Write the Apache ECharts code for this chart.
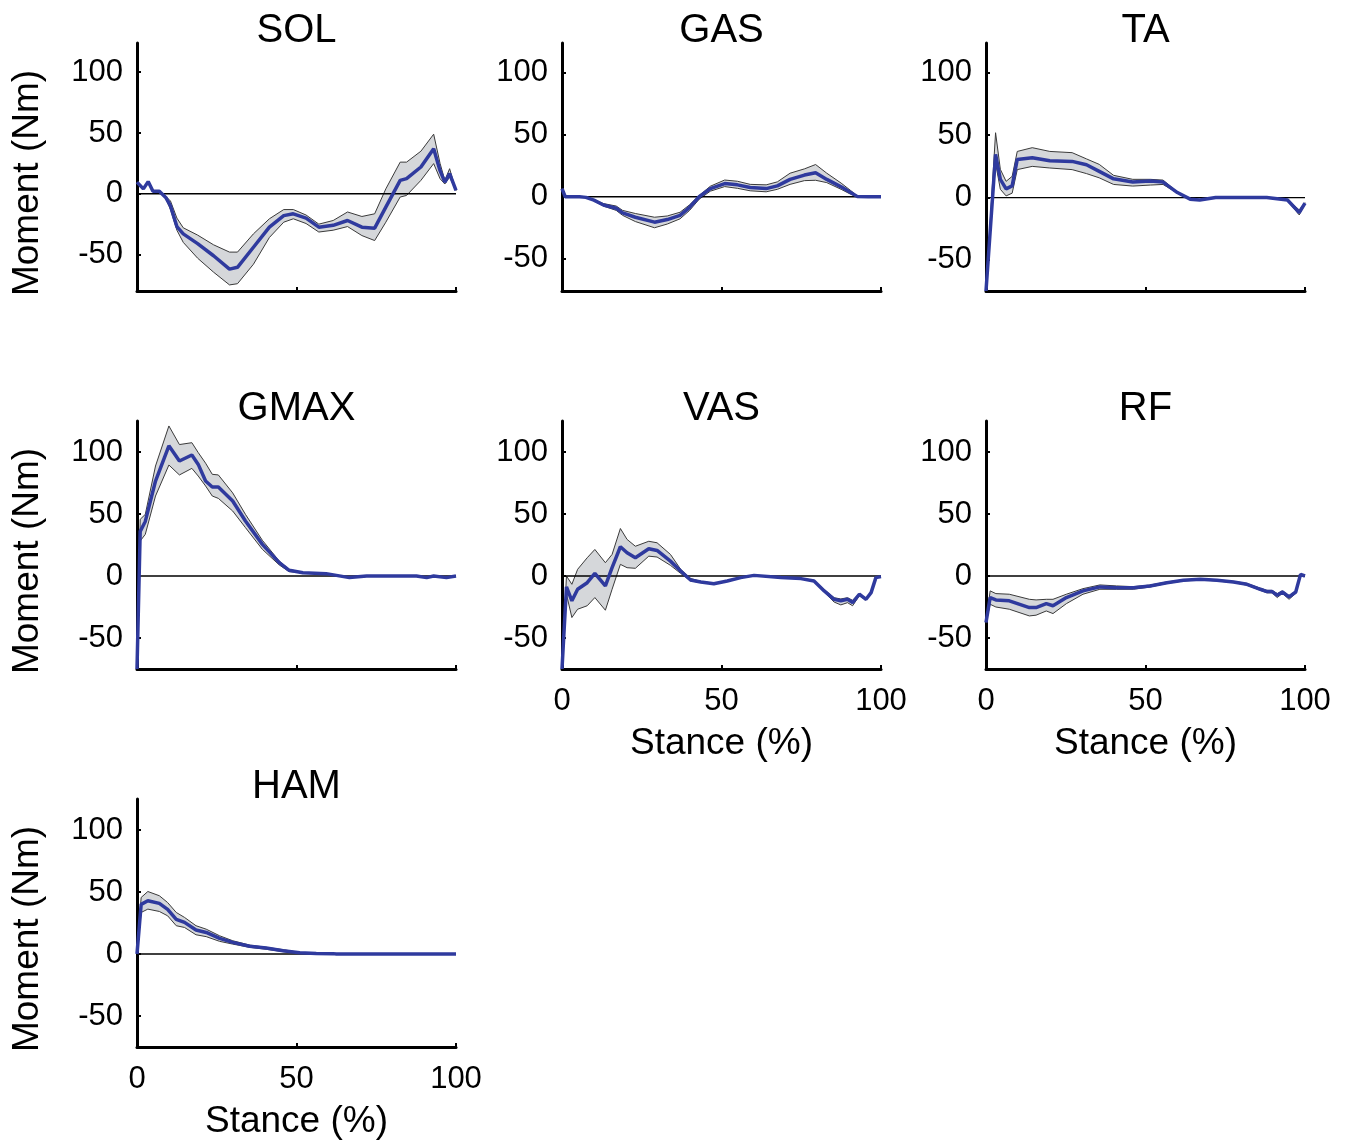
<!DOCTYPE html>
<html>
<head>
<meta charset="utf-8">
<script src="https://cdn.jsdelivr.net/npm/echarts@6/dist/echarts.min.js"></script>
<style>
html, body { margin: 0; padding: 0; background: #fff; }
#main { width: 1353px; height: 1142px; }
</style>
</head>
<body>
<div id="main"></div>
<script>
// stance (%) and moment (Nm): mean, upper and lower edge of the band
var solX    = [0, 2, 3.5, 5, 7, 9, 10.5, 12.5, 14.5, 19, 24, 29, 31.5, 36.5, 41.5, 46, 49, 53, 57, 61.5, 66, 70.5, 74.5, 78, 82.5, 84.5, 89, 93, 95, 96.5, 98, 100];
var solMean = [9.6, 4, 10, 2, 2, -3, -10, -27, -33, -41, -51, -62, -60.5, -44, -27.5, -18, -16.5, -20, -27.5, -26, -22, -27.5, -28.3, -11, 11, 12.4, 22, 37, 19, 9.6, 16.5, 2.7];
var solHi   = [9.6, 4, 10, 2, 2, -2, -6, -20, -28, -34, -42, -48, -48, -33, -20.6, -13, -13, -17.5, -25, -22, -15, -18.7, -16.5, 4, 26, 26, 35, 49, 25, 11, 20.6, 2.7];
var solLo   = [9.6, 4, 10, 2, 2, -4, -13, -30, -40, -53, -64.5, -75, -74, -58, -36, -23.4, -20.6, -24.5, -31.5, -30, -27, -34.4, -38.5, -23.4, -2.7, -1.4, 11, 24.8, 12.4, 8, 13.7, 2.7];

var gasX    = [0, 1, 5.5, 7.5, 10, 13, 17, 19, 23, 29, 33, 37, 40, 43, 46.5, 51, 55, 59, 64, 67.5, 71.5, 76, 79.5, 83, 87.5, 90.5, 92.5, 96, 100];
var gasMean = [6.6, 0, 0, -0.5, -2.7, -6.6, -9.3, -13, -16.5, -20.5, -18.4, -15, -8.5, 0, 6.6, 10.6, 9.6, 7.4, 6.6, 8.8, 14, 17.5, 19.4, 14, 8, 3.5, 0.3, 0, 0];
var gasHi   = [6.6, 0, 0, -0.3, -2.2, -5.5, -7.5, -11, -13.5, -16.5, -15.5, -12.5, -6.5, 1, 8.5, 13.5, 12.5, 10, 9.6, 12, 19, 22.5, 26, 19, 11, 5, 0.8, 0, 0];
var gasLo   = [6.6, 0, 0, -0.7, -3.2, -7.5, -11, -15, -20, -25, -22, -17.8, -11, -2, 4.5, 8.2, 6.8, 4.8, 4, 6, 10, 13, 13.3, 11.4, 6, 2, 0, 0, 0];

var taX     = [0, 3, 4.5, 6.3, 8.2, 9.8, 14.5, 20, 27, 31.5, 35.5, 40, 46, 51.5, 55.5, 60, 64, 67, 72, 88, 94.5, 98.2, 100];
var taMean  = [-75, 34.6, 14.6, 7, 9.3, 30.6, 32, 29.5, 29, 26.3, 21, 15, 12.4, 13.2, 12.4, 4, -1.3, -2, 0, 0, -2, -12, -4.5];
var taHi    = [-75, 52, 22.6, 13, 17, 37, 40, 37, 36, 31, 26.6, 17.8, 14.6, 14.6, 14, 4.5, -1, -1.7, 0, 0, -1.5, -10, -4];
var taLo    = [-75, 27.6, 6.6, 1.3, 3.5, 22.4, 25, 23.7, 22.4, 19.2, 15.8, 10.5, 9.2, 10, 10.5, 3.5, -1.6, -2.3, 0, 0, -2.5, -14, -5];

var gmaxX    = [0, 1, 2.6, 5.8, 10, 13.3, 17.2, 19.2, 21.5, 23.6, 25.5, 30, 34, 39.3, 44.6, 47.7, 52, 59.3, 66.6, 72, 87.6, 90.8, 93, 97, 100];
var gmaxMean = [-75, 36, 44, 76.6, 105, 92.7, 97.6, 90, 76.6, 71.8, 71.8, 60.5, 44.4, 25.5, 10.8, 4.6, 2.7, 1.9, -1.3, 0, 0, -1.3, 0, -1.3, 0];
var gmaxHi   = [-75, 45.7, 49.7, 88.7, 121, 106, 107.5, 99.5, 91, 82, 81.5, 67, 49.7, 28.8, 12, 5.4, 2.7, 1.9, -1.3, 0, 0, -1.3, 0, -1.3, 0];
var gmaxLo   = [-75, 28.2, 33.6, 64.5, 89.5, 81.5, 86.8, 80.6, 72.6, 64.5, 62.6, 52.4, 39, 21.5, 8.9, 3.5, 2.7, 1.9, -1.3, 0, 0, -1.3, 0, -1.3, 0];

var vasX    = [0, 1.4, 3.1, 4.9, 7.9, 10.3, 13.6, 15.7, 18.3, 20.4, 23, 27.2, 29.8, 34, 37.2, 40.3, 43.5, 47.6, 51.8, 56, 60.2, 68.6, 74.9, 79, 82.2, 85.3, 87.4, 89.5, 91.1, 93.2, 95.3, 96.9, 98.4, 100];
var vasMean = [-75, -8.8, -20, -10.7, -5.4, 2.1, -8, 6.7, 23.6, 18.8, 14.7, 22, 20.6, 12, 4, -3.2, -4.8, -6.2, -4, -1.3, 0.5, -1.3, -2.1, -4, -12, -18.8, -20, -18.8, -21.4, -14.7, -18.8, -13.4, -1.3, -0.5];
var vasHi   = [-75, 0, -6.7, 5.4, 14.7, 21.4, 10.7, 17.4, 38.3, 29.5, 24, 28, 26.8, 17.4, 5.4, -2, -4.3, -5.8, -3.7, -1, 0.8, -1, -1.8, -3.5, -11, -17.5, -18.5, -17.5, -19.6, -14, -18, -13, -1, -0.5];
var vasLo   = [-75, -14.7, -33.5, -26.8, -24, -17.4, -27.6, -10.7, 9.4, 6.7, 6.2, 16, 15.3, 8.6, 2.1, -4, -5.3, -6.6, -4.3, -1.6, 0.2, -1.6, -2.4, -4.5, -13, -21, -23.3, -21.5, -24, -16, -19.5, -14, -1.6, -0.5];

var rfX     = [0, 1.3, 3.1, 7.3, 13.6, 15.7, 18.9, 21, 25.2, 30.4, 35.7, 40.9, 46.2, 51.4, 56.7, 61.9, 67.2, 72.4, 77.6, 81.8, 86, 88.1, 89.7, 91.3, 92.9, 95, 97.1, 98.6, 100];
var rfMean  = [-37.5, -17.4, -19.3, -20, -25.5, -25.5, -22.3, -24, -17.4, -12, -8.8, -9.4, -9.4, -8, -5.4, -3.5, -2.7, -3.5, -4.8, -6.7, -10.7, -12.6, -12.6, -15.5, -12.9, -16.9, -12.9, 1.3, 0];
var rfHi    = [-37.5, -12, -14.2, -14.7, -18.8, -19.3, -18.8, -18.8, -14.7, -10.2, -7.2, -8, -8.6, -7.3, -4.8, -3, -2.3, -3, -4.3, -6, -9.8, -11.6, -11.6, -14.2, -12, -15.8, -12.2, 1.3, 0];
var rfLo    = [-37.5, -22.8, -25, -26.8, -32.2, -31.6, -28.2, -30.3, -22.3, -14.7, -10.7, -10.7, -10.7, -8.9, -6, -4, -3.1, -4, -5.3, -7.4, -11.6, -13.6, -13.6, -17.4, -14, -18.8, -14, 1.3, 0];

var hamX    = [0, 1.3, 3.4, 7, 9.6, 12.3, 14.9, 18.5, 21.7, 25.9, 30, 35.3, 40.5, 45.8, 51, 56.2, 61.5, 62.5, 100];
var hamMean = [0, 40, 43, 40.8, 36, 28, 25.5, 19.3, 17.4, 12.6, 9.4, 6.2, 4.8, 2.7, 1, 0.5, 0.3, 0, 0];
var hamHi   = [0, 45.6, 50.4, 47, 41.5, 33.5, 29.5, 22.8, 20, 14.7, 10.7, 7.2, 5.4, 3.5, 1.3, 0.6, 0.3, 0, 0];
var hamLo   = [0, 33.5, 36.2, 34.3, 30.8, 22.8, 21.4, 15.5, 14, 10.2, 8, 5.4, 3.8, 1.9, 0.5, 0.4, 0.3, 0, 0];

var muscles = ['SOL', 'GAS', 'TA', 'GMAX', 'VAS', 'RF', 'HAM'];
var yTicks = [-50, 0, 50, 100];

var myChart = echarts.init(document.getElementById('main'));
var FONT = '"Liberation Sans", Arial, Helvetica, sans-serif';

// layout (note: no global "top" here, window.top is read-only)
var colLeft = [137, 562, 986];
var rowTop = [43, 421, 799];
var plotW = 319, plotH = 248;

var panels = [
	{x: solX, mean: solMean, hi: solHi, lo: solLo, col: 0, row: 0, ymin: -80, ymax: 124},
	{x: gasX, mean: gasMean, hi: gasHi, lo: gasLo, col: 1, row: 0, ymin: -76, ymax: 124},
	{x: taX, mean: taMean, hi: taHi, lo: taLo, col: 2, row: 0, ymin: -75, ymax: 124},
	{x: gmaxX, mean: gmaxMean, hi: gmaxHi, lo: gmaxLo, col: 0, row: 1, ymin: -75, ymax: 125},
	{x: vasX, mean: vasMean, hi: vasHi, lo: vasLo, col: 1, row: 1, ymin: -75, ymax: 125, xlab: true},
	{x: rfX, mean: rfMean, hi: rfHi, lo: rfLo, col: 2, row: 1, ymin: -75, ymax: 125, xlab: true},
	{x: hamX, mean: hamMean, hi: hamHi, lo: hamLo, col: 0, row: 2, ymin: -75, ymax: 125, xlab: true}
];

function pairs(xs, ys) {
	var out = [];
	for (var i = 0; i < xs.length; i++) out.push([xs[i], ys[i]]);
	return out;
}

// gray band between lo and hi, drawn as one polygon through the axis scales
function bandRenderer(p) {
	return function(params, api) {
		if (params.dataIndex !== 0) return;
		var pts = [];
		for (var k = 0; k < p.x.length; k++) pts.push(api.coord([p.x[k], p.hi[k]]));
		for (var k = p.x.length - 1; k >= 0; k--) pts.push(api.coord([p.x[k], p.lo[k]]));
		return {type: 'polygon', shape: {points: pts}, style: {fill: '#d5d7da', stroke: null}};
	};
}

var grids = [], xAxes = [], yAxes = [], series = [], graphics = [];

for (var i = 0; i < panels.length; i++) {
	var p = panels[i];
	var gLeft = colLeft[p.col], gTop = rowTop[p.row];
	grids.push({left: gLeft, top: gTop, width: plotW, height: plotH});

	xAxes.push({
		type: 'value', gridIndex: i, min: 0, max: 100, interval: 50,
		axisLine: {onZero: false, lineStyle: {color: '#000', width: 3}},
		axisTick: {show: true, inside: true, length: 4, lineStyle: {color: '#000', width: 2}},
		axisLabel: {show: !!p.xlab, color: '#000', fontSize: 31, fontFamily: FONT, margin: 17},
		splitLine: {show: false},
		name: p.xlab ? 'Stance (%)' : '',
		nameLocation: 'middle', nameGap: 56,
		nameTextStyle: {color: '#000', fontSize: 37, fontFamily: FONT}
	});

	yAxes.push({
		type: 'value', gridIndex: i, min: p.ymin, max: p.ymax,
		axisLine: {onZero: false, lineStyle: {color: '#000', width: 3}},
		axisTick: {show: true, inside: true, length: 4, customValues: yTicks, lineStyle: {color: '#000', width: 2}},
		axisLabel: {color: '#000', fontSize: 31, fontFamily: FONT, margin: 14, customValues: yTicks, padding: [4, 0, 0, 0]},
		splitLine: {show: false}
	});

	var bandRows = [];
	for (var k = 0; k < p.x.length; k++) bandRows.push([p.x[k], p.lo[k], p.hi[k]]);
	series.push({
		type: 'custom', xAxisIndex: i, yAxisIndex: i, data: bandRows,
		encode: {x: 0, y: [1, 2]}, silent: true, renderItem: bandRenderer(p)
	});
	series.push({
		type: 'line', xAxisIndex: i, yAxisIndex: i, data: pairs(p.x, p.lo),
		symbol: 'none', silent: true, lineStyle: {color: '#3a3a3a', width: 1}
	});
	series.push({
		type: 'line', xAxisIndex: i, yAxisIndex: i, data: pairs(p.x, p.hi),
		symbol: 'none', silent: true, lineStyle: {color: '#3a3a3a', width: 1}
	});
	// zero line
	series.push({
		type: 'line', xAxisIndex: i, yAxisIndex: i, data: [[0, 0], [100, 0]],
		symbol: 'none', silent: true, lineStyle: {color: '#000', width: 1.3}
	});
	// mean
	series.push({
		type: 'line', xAxisIndex: i, yAxisIndex: i, data: pairs(p.x, p.mean),
		symbol: 'none', lineStyle: {color: '#2f3a9e', width: 3.5}
	});

	graphics.push({
		type: 'text', x: gLeft + plotW / 2, y: gTop - 12,
		style: {text: muscles[i], font: '40px ' + FONT, fill: '#000', align: 'center', verticalAlign: 'middle'}
	});
	if (p.col == 0) {
		graphics.push({
			type: 'text', x: 28, y: gTop + 140, rotation: Math.PI / 2,
			style: {text: 'Moment (Nm)', font: '37px ' + FONT, fill: '#000', align: 'center', verticalAlign: 'middle'}
		});
	}
}

var option = {
	backgroundColor: '#fff',
	animation: false,
	grid: grids,
	xAxis: xAxes,
	yAxis: yAxes,
	series: series,
	graphic: graphics
};
myChart.setOption(option);
</script>
</body>
</html>
